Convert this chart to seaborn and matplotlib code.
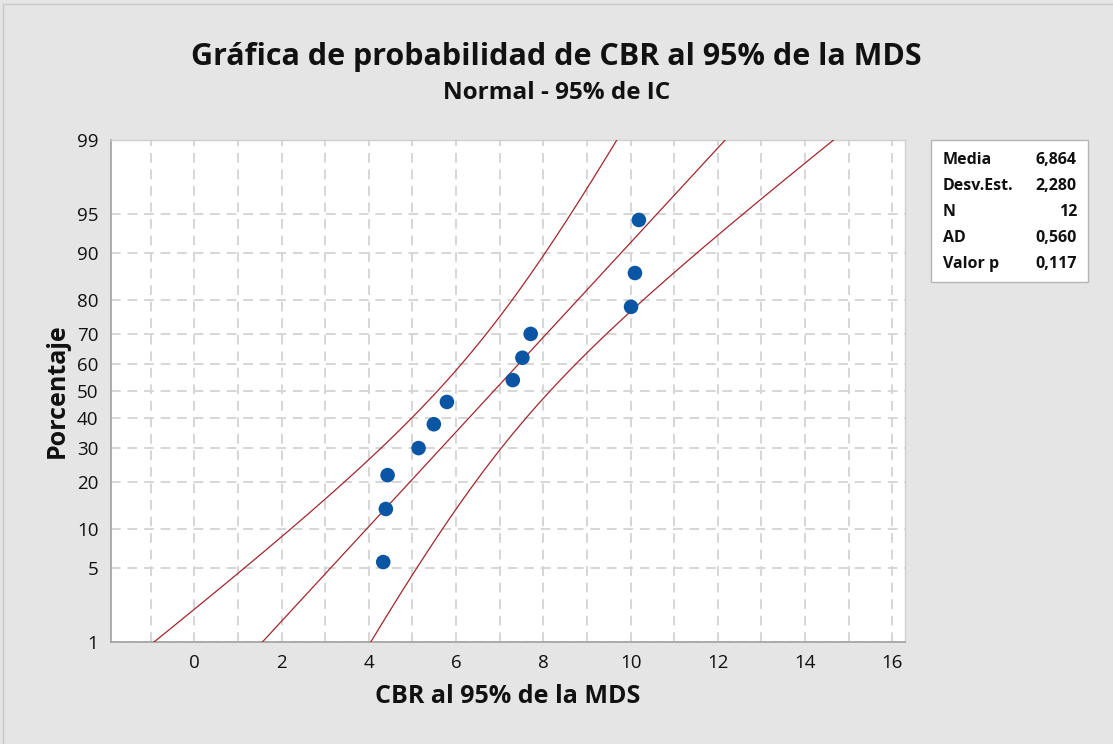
#!/usr/bin/env python3
"""
Normal probability plot of CBR at 95% of MDS (Minitab style).
"""

from statistics import NormalDist

import matplotlib

matplotlib.use("Agg")
import matplotlib.pyplot as plt
import numpy as np
import seaborn as sns

# CBR values
cbr = [4.33, 4.39, 4.43, 5.14, 5.49, 5.79, 7.30, 7.52, 7.71, 10.01, 10.10, 10.19]

# summary shown in the table
media = 6.864
desv_est = 2.280
n_obs = 12
ad = 0.560
valor_p = 0.117

stat_labels = ["Media", "Desv.Est.", "N", "AD", "Valor p"]
stat_values = ["6,864", "2,280", "12", "0,560", "0,117"]

y_ticks_pct = [1, 5, 10, 20, 30, 40, 50, 60, 70, 80, 90, 95, 99]
x_ticks = [0, 2, 4, 6, 8, 10, 12, 14, 16]

nd = NormalDist()
BLUE = "#0a56a5"
RED = "#a3262b"
BG = "#e5e5e5"
GRID = "#d6d6d6"
INK = "#111111"

sns.set_style("white")
plt.rcParams["font.family"] = ["Open Sans", "DejaVu Sans"]
plt.rcParams["text.color"] = INK
plt.rcParams["axes.labelcolor"] = INK
plt.rcParams["xtick.color"] = INK
plt.rcParams["ytick.color"] = INK

fig = plt.figure(figsize=(11.13, 7.44), dpi=100, facecolor=BG)
ax = fig.add_axes([111 / 1113, 1 - 642 / 744, (905 - 111) / 1113, (642 - 140) / 744])
ax.set_facecolor("white")

# median rank plotting positions (Benard)
x_sorted = np.sort(np.array(cbr))
ranks = np.arange(1, n_obs + 1)
pp = (ranks - 0.3) / (n_obs + 0.4)
z_pts = np.array([nd.inv_cdf(p) for p in pp])

# fitted line and 95% CI bands
z_grid = np.linspace(nd.inv_cdf(0.0005), nd.inv_cdf(0.9995), 400)
fit = media + desv_est * z_grid
half = 1.96 * desv_est * np.sqrt(1 / n_obs + z_grid**2 / (2 * n_obs))

for xs in (fit - half, fit, fit + half):
    sns.lineplot(x=xs, y=z_grid, sort=False, estimator=None, color=RED,
                 linewidth=0.9, ax=ax, zorder=3)

sns.scatterplot(x=x_sorted, y=z_pts, color=BLUE, s=110, edgecolor="none",
                ax=ax, zorder=4)

# axes
ax.set_xlim(-1.91, 16.29)
ax.set_ylim(nd.inv_cdf(0.01), nd.inv_cdf(0.99))
ax.set_xticks(x_ticks)
ax.set_xticklabels([str(t) for t in x_ticks], fontsize=13.5)
ax.set_xticks(np.arange(-1, 17), minor=True)
ax.set_yticks([nd.inv_cdf(p / 100) for p in y_ticks_pct])
ax.set_yticklabels([str(p) for p in y_ticks_pct], fontsize=13.5)

ax.grid(True, which="both", axis="x", color=GRID, linestyle=(0, (5, 3.5)), linewidth=1.4)
ax.grid(True, which="major", axis="y", color=GRID, linestyle=(0, (5, 3.5)), linewidth=1.4)
ax.set_axisbelow(True)
ax.tick_params(axis="both", which="major", length=5, width=1, color="#909090",
               direction="out", pad=4)
ax.tick_params(axis="x", which="minor", length=0)

for side in ["left", "bottom"]:
    ax.spines[side].set_color("#a0a0a0")
    ax.spines[side].set_linewidth(1.2)
for side in ["top", "right"]:
    ax.spines[side].set_color("#cfcfcf")
    ax.spines[side].set_linewidth(1.0)

ax.set_xlabel("CBR al 95% de la MDS", fontsize=18, fontweight="bold", labelpad=8)
ax.set_ylabel("Porcentaje", fontsize=18, fontweight="bold", labelpad=5)

# titles
fig.text(0.5, 1 - 57 / 744, "Gráfica de probabilidad de CBR al 95% de la MDS",
         ha="center", va="center", fontsize=22, fontweight="bold")
fig.text(0.5, 1 - 93 / 744, "Normal - 95% de IC", ha="center", va="center",
         fontsize=17.5, fontweight="bold")

# stats box
box = plt.Rectangle((931 / 1113, 1 - 282 / 744), (1088 - 931) / 1113, (282 - 140) / 744,
                    transform=fig.transFigure, facecolor="white", edgecolor="#b5b5b5",
                    linewidth=1.0)
fig.add_artist(box)
row_y = [160, 186, 212, 238, 264]
for lab, val, yy in zip(stat_labels, stat_values, row_y):
    fig.text(943 / 1113, 1 - yy / 744, lab, ha="left", va="center", fontsize=11.5,
             fontweight="bold")
    fig.text(1077 / 1113, 1 - yy / 744, val, ha="right", va="center", fontsize=11.5,
             fontweight="bold")

# thin frame at the top and left of the figure
fig.add_artist(plt.Line2D([3 / 1113, 3 / 1113], [0, 1 - 4 / 744],
                          transform=fig.transFigure, color="#c8c8c8", linewidth=1))
fig.add_artist(plt.Line2D([3 / 1113, 1], [1 - 4 / 744, 1 - 4 / 744],
                          transform=fig.transFigure, color="#c8c8c8", linewidth=1))

fig.savefig("out.png", dpi=100, facecolor=BG)
